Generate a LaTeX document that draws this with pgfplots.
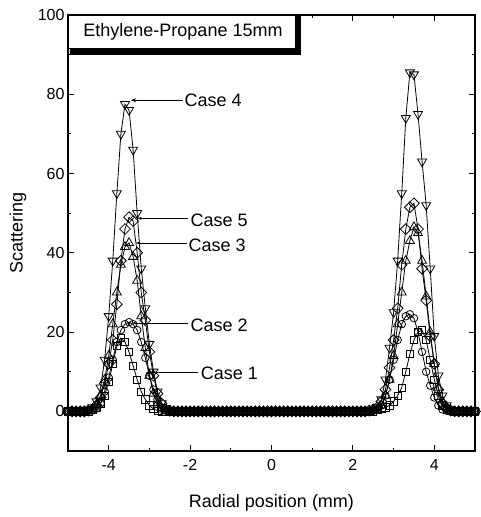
\documentclass[border=0pt]{standalone}
\usepackage{fontspec}
\setmainfont{Liberation Sans}
\usepackage{pgfplots}
\usepackage{pgfplotstable}
\pgfplotsset{compat=1.18}
\usetikzlibrary{arrows.meta}

\pgfplotstableread{
x c1 c2 c3 c4 c5
-5.0 0 0 0 0 0
-4.9 0 0 0 0 0
-4.8 0 0 0 0 0
-4.7 0 0 0 0 0
-4.6 0 0 0 0 0
-4.5 0 0.2 0.2 0.3 0.2
-4.4 0.3 0.4 0.5 1 0.5
-4.3 0.8 0.8 1.5 2.5 1.5
-4.2 2 2 4 6 3.5
-4.1 4 5 8 13 7
-4.0 7.5 8.5 14 24 12
-3.9 12 13 22 38 18
-3.8 16.5 17.5 30 55 27
-3.7 18.5 20.5 37 70 38
-3.6 17.5 22 41.5 77.5 46
-3.5 15 22.5 42.5 76 49
-3.4 11.5 22 39 66 48
-3.3 8 20.5 33 50 40
-3.2 5 17.5 24 36 30
-3.1 3 13.5 16 26 23
-3.0 1.5 9 9 17 15
-2.9 0.6 5.5 4.5 10 9
-2.8 0.2 3 2 5 4.5
-2.7 0 1 0.5 2 2
-2.6 0 0.3 0.2 0.8 0.5
-2.5 0 0 0 0.2 0.2
-2.4 0 0 0 0 0
-2.3 0 0 0 0 0
-2.2 0 0 0 0 0
-2.1 0 0 0 0 0
-2.0 0 0 0 0 0
-1.9 0 0 0 0 0
-1.8 0 0 0 0 0
-1.7 0 0 0 0 0
-1.6 0 0 0 0 0
-1.5 0 0 0 0 0
-1.4 0 0 0 0 0
-1.3 0 0 0 0 0
-1.2 0 0 0 0 0
-1.1 0 0 0 0 0
-1.0 0 0 0 0 0
-0.9 0 0 0 0 0
-0.8 0 0 0 0 0
-0.7 0 0 0 0 0
-0.6 0 0 0 0 0
-0.5 0 0 0 0 0
-0.4 0 0 0 0 0
-0.3 0 0 0 0 0
-0.2 0 0 0 0 0
-0.1 0 0 0 0 0
0.0 0 0 0 0 0
0.1 0 0 0 0 0
0.2 0 0 0 0 0
0.3 0 0 0 0 0
0.4 0 0 0 0 0
0.5 0 0 0 0 0
0.6 0 0 0 0 0
0.7 0 0 0 0 0
0.8 0 0 0 0 0
0.9 0 0 0 0 0
1.0 0 0 0 0 0
1.1 0 0 0 0 0
1.2 0 0 0 0 0
1.3 0 0 0 0 0
1.4 0 0 0 0 0
1.5 0 0 0 0 0
1.6 0 0 0 0 0
1.7 0 0 0 0 0
1.8 0 0 0 0 0
1.9 0 0 0 0 0
2.0 0 0 0 0 0
2.1 0 0 0 0 0
2.2 0 0 0 0 0
2.3 0 0 0 0 0
2.4 0 0 0 0.2 0.2
2.5 0 0.2 0.2 0.3 0.5
2.6 0.3 0.5 0.5 1 1
2.7 0.6 1.5 1.5 3 2.5
2.8 1 4 4 8 5.5
2.9 1.5 8 8 16 11
3.0 2.5 13 14 25 18
3.1 4 18 22 38 26
3.2 6 22 30 55 37
3.3 10 24 38 74 46
3.4 14.5 24.5 43 85.5 51.5
3.5 18 23.5 46.5 85 52.5
3.6 20 20 45 75 46
3.7 20.5 15 38 63 36
3.8 18 10 29 52 28
3.9 13 6.5 20 36 19
4.0 8 3.5 12 19 12
4.1 4 1.5 6 9 5.5
4.2 1.5 0.5 2.5 4 2
4.3 0.5 0.2 1 1.5 0.8
4.4 0.2 0 0.3 0.5 0.2
4.5 0 0 0 0.2 0
4.6 0 0 0 0 0
4.7 0 0 0 0 0
4.8 0 0 0 0 0
4.9 0 0 0 0 0
5.0 0 0 0 0 0
}\data

\begin{document}
\begin{tikzpicture}
\begin{axis}[
  scale only axis, width=407pt, height=436pt,
  xmin=-5, xmax=5, ymin=-10, ymax=100,
  xtick={-4,-2,0,2,4}, minor xtick={-3,-1,1,3},
  ytick={0,20,40,60,80,100}, minor ytick={10,30,50,70,90},
  tick align=inside, major tick length=6pt, minor tick length=3.5pt,
  every tick/.style={black, line width=1pt},
  axis line style={line width=1.6pt},
  tick label style={font=\fontsize{16}{18}\selectfont},
  xticklabel style={yshift=-5pt},
  /pgf/number format/assume math mode=true,
  xlabel={Radial position (mm)}, ylabel={Scattering},
  label style={font=\fontsize{18}{20}\selectfont},
  xlabel style={at={(axis description cs:0.5,-0.12)}, anchor=center},
  ylabel style={at={(axis description cs:-0.123,0.5)}, anchor=center},
  every axis plot/.append style={black, line width=0.8pt},
]
\addplot[mark=square, mark size=3.6pt, mark options={fill=white, solid}] table[x=x,y=c1] {\data};
\addplot[mark=o, mark size=3.8pt, mark options={fill=white, solid}] table[x=x,y=c2] {\data};
\addplot[mark=triangle, mark size=5.2pt, mark options={fill=white, solid}] table[x=x,y=c3] {\data};
\addplot[mark=triangle, mark size=5.2pt, mark options={fill=white, solid, rotate=180}] table[x=x,y=c4] {\data};
\addplot[mark=square, mark size=3.8pt, mark options={fill=white, solid, rotate=45}] table[x=x,y=c5] {\data};

\draw[-{Stealth[length=5pt,width=4pt]}, line width=0.8pt] (axis cs:-2.18,78.5) -- (axis cs:-3.45,78.5);
\node[anchor=west, inner sep=0pt, font=\fontsize{18}{20}\selectfont] at (axis cs:-2.14,78.5) {Case 4};
\draw[-{Stealth[length=4pt,width=3pt]}, line width=0.8pt] (axis cs:-2.04,48.7) -- (axis cs:-3.29,48.7);
\node[anchor=west, inner sep=0pt, font=\fontsize{18}{20}\selectfont] at (axis cs:-1.99,48.2) {Case 5};
\draw[-{Stealth[length=4pt,width=3pt]}, line width=0.8pt] (axis cs:-2.08,42.5) -- (axis cs:-3.33,42.5);
\node[anchor=west, inner sep=0pt, font=\fontsize{18}{20}\selectfont] at (axis cs:-2.04,42.0) {Case 3};
\draw[-{Stealth[length=4pt,width=3pt]}, line width=0.8pt] (axis cs:-2.04,22.3) -- (axis cs:-3.42,22.3);
\node[anchor=west, inner sep=0pt, font=\fontsize{18}{20}\selectfont] at (axis cs:-1.99,21.7) {Case 2};
\draw[-{Stealth[length=4pt,width=3pt]}, line width=0.8pt] (axis cs:-1.80,9.8) -- (axis cs:-3.08,9.8);
\node[anchor=west, inner sep=0pt, font=\fontsize{18}{20}\selectfont] at (axis cs:-1.74,9.6) {Case 1};
\end{axis}
% title box with shadow
\fill[black] ([xshift=2pt]current axis.north west) rectangle ([xshift=233pt,yshift=-40pt]current axis.north west);
\draw[fill=white, line width=0.8pt] (current axis.north west) rectangle ([xshift=227pt,yshift=-33pt]current axis.north west);
\node[font=\fontsize{18}{20}\selectfont, inner sep=0pt] at ([xshift=115pt,yshift=-17pt]current axis.north west) {Ethylene-Propane 15mm};
\draw[line width=1.6pt] (current axis.north west) -- ([xshift=227pt]current axis.north west);
% bounding box matching the reference
\path ([xshift=-68pt,yshift=-66pt]current axis.south west) rectangle ([xshift=1pt,yshift=15pt]current axis.north east);
\end{tikzpicture}
\end{document}
